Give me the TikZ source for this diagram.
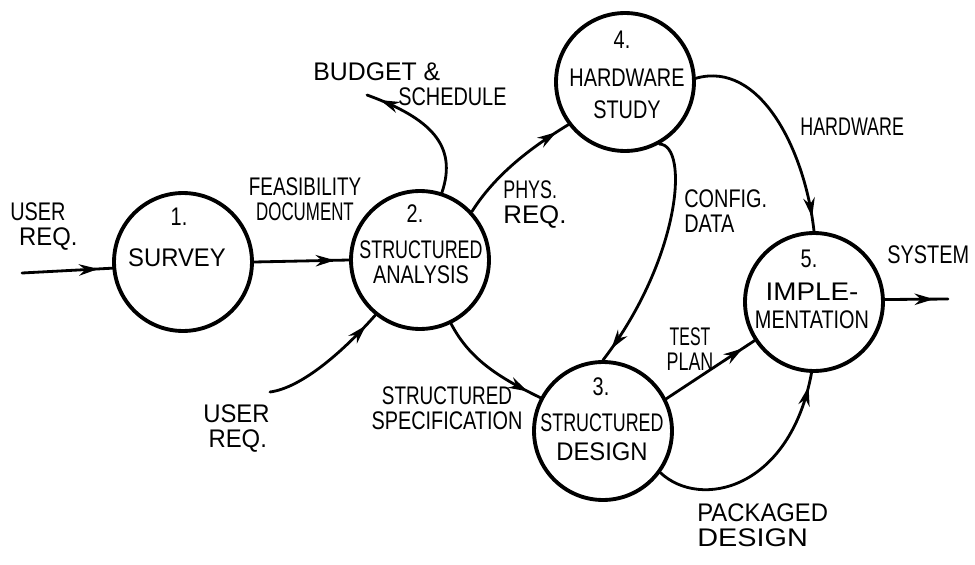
\documentclass[tikz,border=0pt]{standalone}
\usepackage{graphicx}
\usepackage{fontspec}
\setmainfont{Liberation Sans}[FakeStretch=0.78]
\usetikzlibrary{arrows.meta,decorations.markings}

% horizontal stretch of a single word
\newcommand\hs[2]{\scalebox{#1}[1]{#2}}

\tikzset{
  process/.style={circle, draw, line width=2.2pt, minimum size=2.76cm, inner sep=0pt},
  ptext/.style={inner sep=0pt, font=\fontsize{14.5}{14.5}\selectfont, align=center},
  lbl/.style={inner sep=0pt, font=\fontsize{14.5}{14.5}\selectfont},
  flow/.style={line width=1.6pt, line cap=round, postaction={decorate},
    decoration={markings, mark=at position -8pt with {\arrow{Stealth[length=11pt,width=6.5pt]}}}}
}

\begin{document}
\begin{tikzpicture}[x=0.02cm, y=-0.02cm]
\useasboundingbox (0,0) rectangle (975,565);

% processes
\node[process] (p1) at (183,262) {};
\node[process] (p2) at (420,260) {};
\node[process] (p3) at (603,431) {};
\node[process] (p4) at (625,82) {};
\node[process] (p5) at (814,302) {};

% process captions
\node[ptext] (n1) at (179,217) {1.};
\node[ptext] (t1) at (177,258) {\hs{1.2}{SURVEY}};
\node[ptext] (n2) at (415,214) {2.};
\node[ptext] (t2) at (421,262) {\hs{0.9}{STRUCTURED}\\ANALYSIS};
\node[ptext] (n4) at (622,40) {4.};
\node[ptext] (t4) at (627,94) {HARDWARE\\[4pt]STUDY};
\node[ptext] (n5) at (809,259) {5.};
\node[ptext] (t5) at (812,306) {\hs{1.4}{IMPLE-}\\[1.5pt]MENTATION};
\node[ptext] (n3) at (601,387) {3.};
\node[ptext] (t3) at (602,437) {\hs{0.9}{STRUCTURED}\\[2pt]\hs{1.2}{DESIGN}};

% free ends
\coordinate (uin) at (22,273);
\coordinate (bud) at (367,95);
\coordinate (uin2) at (270,392);
\coordinate (sysout) at (948,299);

% flows
\draw[flow] (uin) -- (p1.185);
\draw[flow] (p1.east) -- (p2.west);
\draw[flow] (p2.72) .. controls (458,145) and (430,118) .. (bud);
\draw[flow] (p2.43) .. controls (495,175) and (530,148) .. (p4.217);
\draw[flow] (uin2) .. controls (300,388) and (340,355) .. (p2.231);
\draw[flow] (p2.296) .. controls (470,360) and (500,378) .. (p3.152);
\draw[flow] (p4.299) .. controls (690,145) and (680,260) .. (p3.90);
\draw[flow] (p4.3) .. controls (760,60) and (805,150) .. (p5.90);
\draw[flow] (p3.27) -- (p5.213);
\draw[flow] (p3.324) .. controls (700,510) and (790,490) .. (p5.268);
\draw[flow] (p5.2) -- (sysout);

% flow labels
\node[lbl, anchor=north west, align=left] (l1) at (10,202) {USER\\\hspace*{5pt}\hs{1.2}{REQ.}};
\node[lbl, anchor=north, align=center] (l2) at (305,177) {\hs{0.95}{FEASIBILITY}\\\hs{0.85}{DOCUMENT}};
\node[lbl, anchor=north west] (l3a) at (313,62) {\hs{1.25}{BUDGET \&}};
\node[lbl, anchor=north west] (l3b) at (398,87) {SCHEDULE};
\node[lbl, anchor=north west, align=left] (l4) at (503,180) {\hs{0.9}{PHYS.}\\\hs{1.3}{REQ.}};
\node[lbl, anchor=north west, align=left] (l5) at (684,189) {CONFIG.\\DATA};
\node[lbl, anchor=north west] (l6) at (800,118) {\hs{0.9}{HARDWARE}};
\node[lbl, anchor=north west, align=left] (l7) at (203,404) {\hs{1.2}{USER}\\\hspace*{3pt}\hs{1.2}{REQ.}};
\node[lbl, anchor=north, align=center] (l8) at (447,386) {\hs{0.95}{STRUCTURED}\\SPECIFICATION};
\node[lbl, anchor=north, align=center] (l9) at (690,327) {\hs{0.8}{TEST}\\\hs{0.9}{PLAN}};
\node[lbl, anchor=north west, align=left] (l10) at (697,503) {\hs{1.2}{PACKAGED}\\\hs{1.45}{DESIGN}};
\node[lbl, anchor=north west] (l11) at (887,245) {SYSTEM};
\end{tikzpicture}
\end{document}
